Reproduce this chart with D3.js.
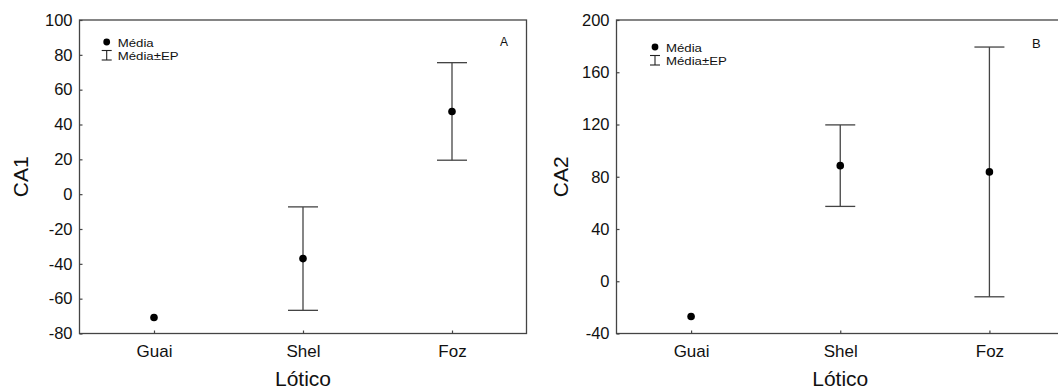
<!DOCTYPE html>
<html>
<head>
<meta charset="utf-8">
<script src="https://cdn.jsdelivr.net/npm/d3@7"></script>
<style>
  html, body { margin: 0; padding: 0; background: #fff; }
  svg { display: block; }
  text { font-family: "Liberation Sans", Arial, sans-serif; fill: #111; }
</style>
</head>
<body>
<svg id="chart" width="1058" height="389"></svg>
<script>
// Sampling sites (lotic stretch)
const categories = ["Guai", "Shel", "Foz"];

// Panel A: CA1 scores, mean and standard error
const meanCA1 = [-70.8, -37.0, 47.5];
const seCA1   = [null, 29.7, 28.0];

// Panel B: CA2 scores, mean and standard error
const meanCA2 = [-27.0, 88.5, 83.7];
const seCA2   = [null, 31.2, 95.6];

// Axis tick values
const ticksCA1 = [-80, -60, -40, -20, 0, 20, 40, 60, 80, 100];
const ticksCA2 = [-40, 0, 40, 80, 120, 160, 200];

// Legend entries
const legendLabels = ["Média", "Média±EP"];

const svg = d3.select("#chart");

const panels = [
  { key: "A", yTitle: "CA1", means: meanCA1, ses: seCA1, ticks: ticksCA1,
    left: 79.5, right: 526.5, titleX: 27.5, tagX: 500, tagY: 46, tagSize: 12,
    legX: 106.7, legY: 42 },
  { key: "B", yTitle: "CA2", means: meanCA2, ses: seCA2, ticks: ticksCA2,
    left: 616.5, right: 1064, titleX: 568, tagX: 1032, tagY: 48, tagSize: 13,
    legX: 655, legY: 47 }
];

const plotTop = 20, plotBottom = 333.5;
const lineColor = "#444";
const fontFamily = "'Liberation Sans', Arial, sans-serif";

panels.forEach(p => {
  const g = svg.append("g").attr("class", "panel-" + p.key);

  const x = d3.scalePoint().domain(categories).range([p.left, p.right]).padding(0.5);
  const y = d3.scaleLinear()
    .domain([d3.min(p.ticks), d3.max(p.ticks)])
    .range([plotBottom, plotTop]);

  // frame around the plotting area
  g.append("rect")
    .attr("x", p.left).attr("y", plotTop)
    .attr("width", p.right - p.left).attr("height", plotBottom - plotTop)
    .attr("fill", "none").attr("stroke", lineColor).attr("stroke-width", 1.3);

  // y axis with inward ticks, plain hyphen for negatives
  const yAxis = g.append("g")
    .attr("transform", `translate(${p.left},0)`)
    .call(d3.axisLeft(y).tickValues(p.ticks).tickFormat(d => String(d))
      .tickSizeInner(-3).tickSizeOuter(0).tickPadding(7));
  yAxis.select(".domain").remove();
  yAxis.selectAll("line").attr("stroke", lineColor).attr("stroke-width", 1.2);
  yAxis.selectAll("text")
    .style("font-family", fontFamily)
    .style("font-size", "16.5px").attr("fill", "#111");

  // x axis with inward ticks
  const xAxis = g.append("g")
    .attr("transform", `translate(0,${plotBottom})`)
    .call(d3.axisBottom(x).tickSizeInner(-3).tickSizeOuter(0).tickPadding(11));
  xAxis.select(".domain").remove();
  xAxis.selectAll("line").attr("stroke", lineColor).attr("stroke-width", 1.2);
  xAxis.selectAll("text")
    .style("font-family", fontFamily)
    .style("font-size", "17px").attr("fill", "#111");

  // axis titles
  g.append("text")
    .attr("x", (p.left + p.right) / 2).attr("y", 386)
    .attr("text-anchor", "middle").style("font-size", "21px")
    .text("Lótico");

  g.append("text")
    .attr("transform", `translate(${p.titleX},${(plotTop + plotBottom) / 2}) rotate(-90)`)
    .attr("text-anchor", "middle").style("font-size", "21px")
    .text(p.yTitle);

  // panel letter
  g.append("text")
    .attr("x", p.tagX).attr("y", p.tagY)
    .style("font-size", p.tagSize + "px")
    .text(p.key);

  // error bars (mean ± SE)
  const rows = categories.map((c, i) => ({ c, m: p.means[i], se: p.ses[i] }))
    .filter(d => d.se != null);
  const capW = 15;
  const eb = g.append("g").attr("stroke", lineColor).attr("stroke-width", 1.3);
  eb.selectAll("line.v").data(rows).join("line").attr("class", "v")
    .attr("x1", d => x(d.c)).attr("x2", d => x(d.c))
    .attr("y1", d => y(d.m + d.se)).attr("y2", d => y(d.m - d.se));
  eb.selectAll("line.up").data(rows).join("line").attr("class", "up")
    .attr("x1", d => x(d.c) - capW).attr("x2", d => x(d.c) + capW)
    .attr("y1", d => y(d.m + d.se)).attr("y2", d => y(d.m + d.se));
  eb.selectAll("line.lo").data(rows).join("line").attr("class", "lo")
    .attr("x1", d => x(d.c) - capW).attr("x2", d => x(d.c) + capW)
    .attr("y1", d => y(d.m - d.se)).attr("y2", d => y(d.m - d.se));

  // means
  g.selectAll("circle.mean").data(categories).join("circle").attr("class", "mean")
    .attr("cx", d => x(d)).attr("cy", (d, i) => y(p.means[i]))
    .attr("r", 3.8).attr("fill", "#000");

  // legend
  const lg = g.append("g").attr("transform", `translate(${p.legX},${p.legY})`);
  lg.append("circle").attr("cx", 0).attr("cy", 0).attr("r", 3.4).attr("fill", "#000");
  lg.append("line").attr("x1", 0).attr("x2", 0).attr("y1", 8.5).attr("y2", 18)
    .attr("stroke", "#222").attr("stroke-width", 1.1);
  lg.append("line").attr("x1", -5).attr("x2", 5).attr("y1", 8.5).attr("y2", 8.5)
    .attr("stroke", "#222").attr("stroke-width", 1.1);
  lg.append("line").attr("x1", -5).attr("x2", 5).attr("y1", 18).attr("y2", 18)
    .attr("stroke", "#222").attr("stroke-width", 1.1);
  // legend labels use a slightly widened face
  lg.append("g").attr("transform", "translate(11,0) scale(1.15,1)")
    .selectAll("text.leg").data(legendLabels).join("text").attr("class", "leg")
    .attr("x", 0).attr("y", (d, i) => 4.5 + i * 13.4)
    .style("font-size", "11.5px")
    .text(d => d);
});
</script>
</body>
</html>
